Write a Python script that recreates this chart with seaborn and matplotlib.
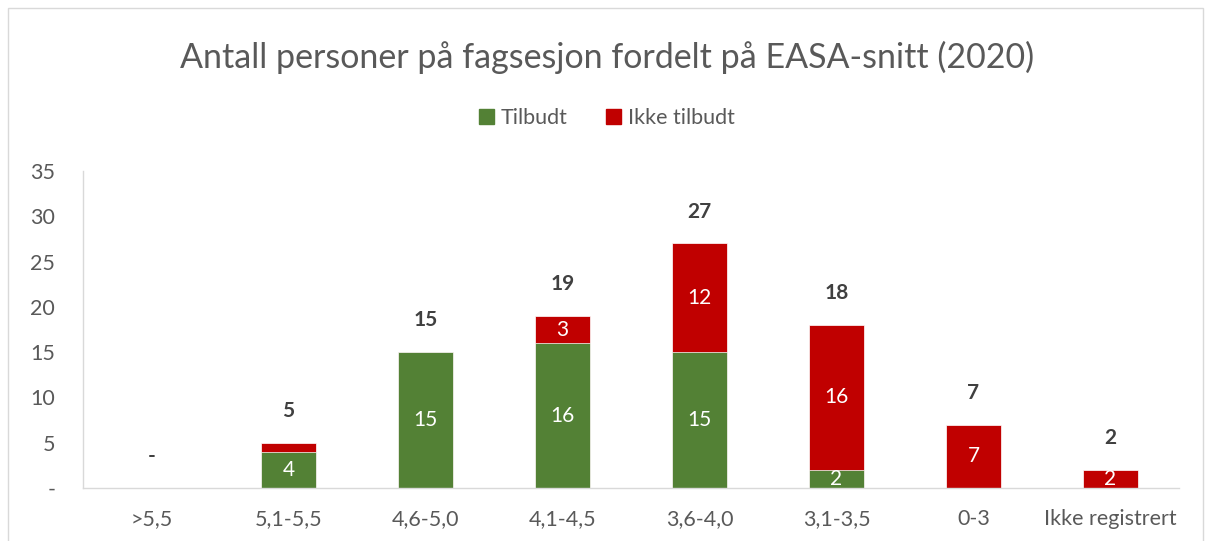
import matplotlib
matplotlib.use("Agg")
import matplotlib.pyplot as plt
import pandas as pd
import seaborn as sns
from matplotlib.patches import Patch, Rectangle

kategorier = [">5,5", "5,1-5,5", "4,6-5,0", "4,1-4,5", "3,6-4,0", "3,1-3,5", "0-3", "Ikke registrert"]
tilbudt = [0, 4, 15, 16, 15, 2, 0, 0]
ikke_tilbudt = [0, 1, 0, 3, 12, 16, 7, 2]

gronn = "#538135"
rod = "#C00000"
gra = "#595959"

df = pd.DataFrame({"kat": kategorier, "tilbudt": tilbudt, "ikke": ikke_tilbudt})
df["total"] = df["tilbudt"] + df["ikke"]

sns.set_style("white")
plt.rcParams["font.family"] = ["Lato", "DejaVu Sans"]

fig = plt.figure(figsize=(12.14, 5.41), dpi=100)
ax = fig.add_axes([83 / 1214, 53 / 541, (1179 - 83) / 1214, (488 - 171) / 541])

# total first (red), then green on top -> stacked look
sns.barplot(data=df, x="kat", y="total", color=rod, width=0.4, saturation=1,
            edgecolor="white", linewidth=0.5, ax=ax)
sns.barplot(data=df, x="kat", y="tilbudt", color=gronn, width=0.4, saturation=1,
            edgecolor="white", linewidth=0.5, ax=ax)

for i, row in df.iterrows():
    if row["tilbudt"] > 0:
        ax.text(i, row["tilbudt"] / 2, str(row["tilbudt"]), ha="center", va="center",
                color="white", fontsize=15)
    if row["ikke"] > 1:
        ax.text(i, row["tilbudt"] + row["ikke"] / 2, str(row["ikke"]), ha="center", va="center",
                color="white", fontsize=15)
    lab = str(row["total"]) if row["total"] > 0 else "-"
    ax.annotate(lab, (i, row["total"]), xytext=(0, 23), textcoords="offset points",
                ha="center", va="center", fontsize=15, fontweight="bold", color="#404040")

ax.set_ylim(0, 35)
ax.set_xlim(-0.5, 7.5)
ax.set_yticks(range(0, 36, 5))
ax.set_yticklabels(["-"] + [str(v) for v in range(5, 36, 5)])
ax.set_xlabel("")
ax.set_ylabel("")
ax.tick_params(axis="both", length=0, labelsize=15.5, colors=gra)
ax.tick_params(axis="y", pad=20)
ax.tick_params(axis="x", pad=15)
for s in ["top", "right"]:
    ax.spines[s].set_visible(False)
for s in ["left", "bottom"]:
    ax.spines[s].set_color("#D9D9D9")
    ax.spines[s].set_linewidth(1)

fig.text(0.5, 1 - 57 / 541, "Antall personer på fagsesjon fordelt på EASA-snitt (2020)",
         ha="center", va="center", fontsize=24.5, color=gra)

handles = [Patch(color=gronn, label="Tilbudt"), Patch(color=rod, label="Ikke tilbudt")]
fig.legend(handles=handles, loc="center", bbox_to_anchor=(0.5, 1 - 118 / 541), ncol=2,
           frameon=False, fontsize=15.5, labelcolor=gra, handlelength=0.7, handleheight=0.7,
           handletextpad=0.3, columnspacing=1.8)

fig.patches.append(Rectangle((8 / 1214, -0.01), (1203 - 8) / 1214, 1 - 8 / 541 + 0.01,
                             transform=fig.transFigure, fill=False, edgecolor="#D9D9D9", lw=1))

fig.savefig("out.png", dpi=100)
